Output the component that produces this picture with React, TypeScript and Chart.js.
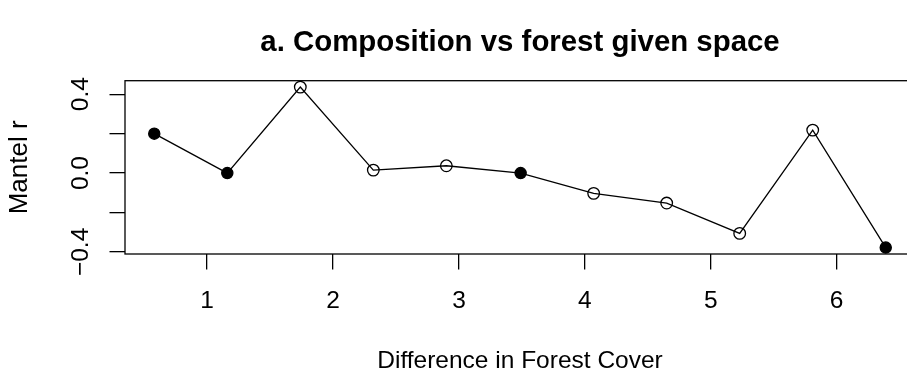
import React, { useEffect, useRef } from "react";
import { Chart, registerables } from "chart.js";

Chart.register(...registerables);

// Mantel correlogram: forest-cover distance classes vs Mantel r
const distanceClass = [0.58, 1.16, 1.74, 2.32, 2.9, 3.49, 4.07, 4.65, 5.23, 5.81, 6.39];
const mantelR = [0.2, 0.0, 0.436, 0.015, 0.037, 0.0, -0.103, -0.152, -0.306, 0.218, -0.378];
const significant = [true, true, false, false, false, true, false, false, false, false, true];

const xTicks = [1, 2, 3, 4, 5, 6];
const xTickLabels = ["1", "2", "3", "4", "5", "6"];
const yTicks = [-0.4, -0.2, 0, 0.2, 0.4];
const yTickLabels = ["\u22120.4", "", "0.0", "", "0.4"];

const mainTitle = "a. Composition vs forest given space";
const xTitle = "Difference in Forest Cover";
const yTitle = "Mantel r";

const FONT = "'Liberation Sans', Arial, Helvetica, sans-serif";
const BASE = 24.5;
const INK = "#000000";
const LW = 1.3;

// R-style axis limits: data range widened by 4% on each side
function paddedRange(values: number[]): [number, number] {
  const lo = Math.min(...values);
  const hi = Math.max(...values);
  const pad = (hi - lo) * 0.04;
  return [lo - pad, hi + pad];
}

const annotations = {
  id: "baseAnnotations",
  afterDraw(chart: any) {
    const { ctx, chartArea, scales } = chart;
    const { left, right, top, bottom } = chartArea;
    ctx.save();
    ctx.strokeStyle = INK;
    ctx.lineWidth = LW;
    ctx.strokeRect(left, top, right - left, bottom - top);

    ctx.fillStyle = INK;
    ctx.textAlign = "center";
    ctx.textBaseline = "middle";

    // x tick labels
    ctx.font = `${BASE}px ${FONT}`;
    xTicks.forEach((v, i) => {
      ctx.fillText(xTickLabels[i], scales.x.getPixelForValue(v), 301);
    });

    // y tick labels, parallel to the axis
    yTicks.forEach((v, i) => {
      if (!yTickLabels[i]) return;
      ctx.save();
      ctx.translate(81, scales.y.getPixelForValue(v));
      ctx.rotate(-Math.PI / 2);
      ctx.fillText(yTickLabels[i], 0, 0);
      ctx.restore();
    });

    const cx = (left + right) / 2;
    const cy = (top + bottom) / 2;

    // axis titles
    ctx.fillText(xTitle, cx, 361);
    ctx.save();
    ctx.font = `26px ${FONT}`;
    ctx.translate(20, cy);
    ctx.rotate(-Math.PI / 2);
    ctx.fillText(yTitle, 0, 0);
    ctx.restore();

    // main title
    ctx.font = `bold ${BASE * 1.2}px ${FONT}`;
    ctx.fillText(mainTitle, cx, 43);
    ctx.restore();
  },
};

export default function App() {
  const canvasRef = useRef<HTMLCanvasElement | null>(null);

  useEffect(() => {
    const canvas = canvasRef.current;
    if (!canvas) return;
    const [xMin, xMax] = paddedRange(distanceClass);
    const [yMin, yMax] = paddedRange(mantelR);

    const points = distanceClass.map((x, i) => ({ x, y: mantelR[i] }));

    const chart = new Chart(canvas, {
      type: "scatter",
      data: {
        datasets: [
          {
            data: points,
            showLine: true,
            borderColor: INK,
            borderWidth: LW,
            pointRadius: significant.map((s) => (s ? 5.6 : 5.8)),
            pointBorderWidth: LW,
            pointBorderColor: INK,
            pointBackgroundColor: significant.map((s) => (s ? INK : "rgba(0,0,0,0)")),
            pointHoverRadius: 0,
            tension: 0,
            clip: false as any,
          },
        ],
      },
      options: {
        responsive: false,
        animation: false,
        devicePixelRatio: 1,
        events: [],
        layout: { padding: { top: 80.7, right: 63, bottom: 0, left: 0 } },
        plugins: {
          legend: { display: false },
          tooltip: { enabled: false },
          title: { display: false },
        },
        scales: {
          x: {
            type: "linear",
            min: xMin,
            max: xMax,
            afterBuildTicks: (s: any) => {
              s.ticks = xTicks.map((value) => ({ value }));
            },
            afterFit: (s: any) => {
              s.height = 118;
            },
            ticks: { display: false },
            border: { display: false },
            grid: {
              drawOnChartArea: false,
              drawTicks: true,
              tickLength: 15.5,
              color: INK,
              lineWidth: LW,
            },
          },
          y: {
            type: "linear",
            min: yMin,
            max: yMax,
            afterBuildTicks: (s: any) => {
              s.ticks = yTicks.map((value) => ({ value }));
            },
            afterFit: (s: any) => {
              s.width = 125;
            },
            ticks: { display: false },
            border: { display: false },
            grid: {
              drawOnChartArea: false,
              drawTicks: true,
              tickLength: 15.5,
              color: INK,
              lineWidth: LW,
            },
          },
        },
      },
      plugins: [annotations],
    });

    return () => chart.destroy();
  }, []);

  return (
    <div
      style={{
        position: "absolute",
        left: 0,
        top: 0,
        width: 907,
        height: 372,
        overflow: "hidden",
        background: "#ffffff",
      }}
    >
      <canvas ref={canvasRef} width={978} height={372} style={{ display: "block" }} />
    </div>
  );
}
